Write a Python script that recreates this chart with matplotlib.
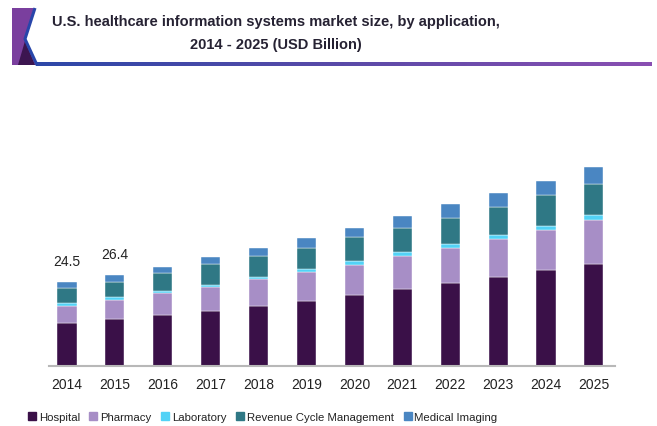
import matplotlib
matplotlib.use('Agg')
import matplotlib.pyplot as plt
import numpy as np
from matplotlib.patches import Polygon
from matplotlib.lines import Line2D
from matplotlib.colors import LinearSegmentedColormap

# data (USD Billion)
years = ['2014', '2015', '2016', '2017', '2018', '2019',
         '2020', '2021', '2022', '2023', '2024', '2025']
hospital = [12.5, 13.6, 15.0, 16.1, 17.6, 19.0, 20.8, 22.4, 24.1, 26.0, 27.9, 29.7]
pharmacy = [5.1, 5.7, 6.3, 7.0, 7.7, 8.3, 8.7, 9.6, 10.2, 10.9, 11.8, 13.0]
laboratory = [0.7, 0.75, 0.7, 0.6, 0.7, 0.9, 1.0, 1.1, 1.2, 1.2, 1.2, 1.2]
revenue = [4.35, 4.45, 5.1, 5.9, 6.1, 6.3, 7.1, 7.2, 7.6, 8.2, 9.0, 9.2]
imaging = [1.75, 1.9, 1.9, 2.2, 2.4, 2.8, 2.7, 3.3, 4.0, 4.1, 3.9, 4.9]
totals_shown = {0: '24.5', 1: '26.4'}

series = ['Hospital', 'Pharmacy', 'Laboratory', 'Revenue Cycle Management', 'Medical Imaging']
values = [hospital, pharmacy, laboratory, revenue, imaging]
colors = ['#3a1048', '#a78ec6', '#52d2f6', '#2f7885', '#4a86c2']

W, H = 657, 427
plt.rcParams['font.family'] = ['Liberation Sans', 'DejaVu Sans']

fig = plt.figure(figsize=(W / 100, H / 100), dpi=100)
fig.patch.set_facecolor('white')

# header decoration (pixel coords)
deco = fig.add_axes([0, 0, 1, 1])
deco.set_xlim(0, W)
deco.set_ylim(H, 0)
deco.axis('off')
grad = LinearSegmentedColormap.from_list('hdr', ['#2d48a8', '#5a4aa8', '#8a4fb2'])
deco.imshow(np.linspace(0, 1, 256).reshape(1, -1), cmap=grad, aspect='auto',
            extent=[36, 652, 66.5, 63.0], zorder=1)
deco.add_patch(Polygon([(12, 9), (34, 9), (25, 40), (37, 66), (12, 66)], closed=True,
                       facecolor='#7a3f9e', edgecolor='none', zorder=2))
deco.add_patch(Polygon([(18, 66), (25, 42), (35, 66)], closed=True,
                       facecolor='#3c1550', edgecolor='none', zorder=3))
deco.plot([35, 25, 37], [9, 40, 66], color='#2846aa', lw=2.2, zorder=4,
          solid_capstyle='butt')

fig.text(276 / W, 1 - 22 / H, 'U.S. healthcare information systems market size, by application,',
         ha='center', va='center', fontsize=10.5, fontweight='bold', color='#262233')
fig.text(276 / W, 1 - 45 / H, '2014 - 2025 (USD Billion)',
         ha='center', va='center', fontsize=10.5, fontweight='bold', color='#262233')

# chart axes
base_px, top_px = 367, 150
left_px, right_px = 49, 615
ax = fig.add_axes([left_px / W, (H - base_px) / H, (right_px - left_px) / W,
                   (base_px - top_px) / H])
ax.set_ylim(0, (base_px - top_px) / 3.43)
x = np.arange(len(years))
ax.set_xlim(-(67 - left_px) / 47.9, (right_px - 67) / 47.9)

bottom = np.zeros(len(years))
for name, vals, c in zip(series, values, colors):
    ax.bar(x, vals, width=0.4, bottom=bottom, color=c, label=name,
           edgecolor='white', linewidth=0.3)
    bottom += np.array(vals)

for i, txt in totals_shown.items():
    ax.text(x[i], bottom[i] + 4.3, txt, ha='center', va='bottom',
            fontsize=10, color='#222222')

for s in ['top', 'right', 'left']:
    ax.spines[s].set_visible(False)
ax.spines['bottom'].set_color('#b8b8b8')
ax.spines['bottom'].set_linewidth(1.5)
ax.set_yticks([])
ax.set_xticks(x)
ax.set_xticklabels(years, fontsize=10, color='#222222')
ax.tick_params(axis='x', length=0, pad=8)
ax.patch.set_alpha(0)

handles = [Line2D([], [], marker='s', linestyle='none', markersize=5.5,
                  markerfacecolor=c, markeredgecolor=c) for c in colors]
fig.legend(handles, series, loc='center', bbox_to_anchor=(263 / W, 1 - 418 / H),
           ncol=5, frameon=False, fontsize=8.2, handlelength=0.6,
           handletextpad=0.3, columnspacing=0.9, labelcolor='#222222')

fig.savefig('out.png', dpi=100, facecolor='white')
